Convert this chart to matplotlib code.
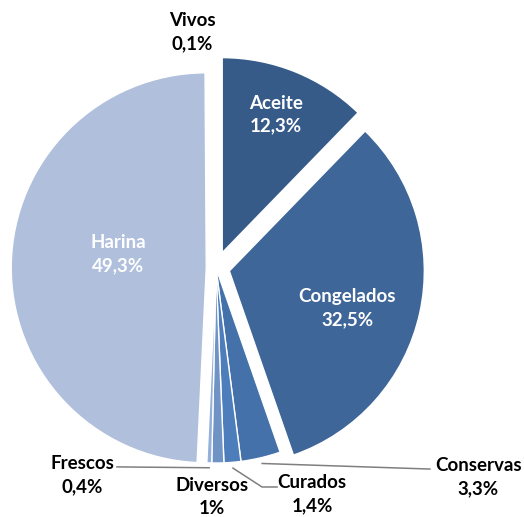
import numpy as np
import matplotlib
matplotlib.use("Agg")
import matplotlib.pyplot as plt

categories = ["Aceite", "Congelados", "Conservas", "Curados", "Diversos", "Frescos", "Harina", "Vivos"]
values = [12.3, 32.5, 3.3, 1.4, 1.0, 0.4, 49.3, 0.1]
pct_labels = ["12,3%", "32,5%", "3,3%", "1,4%", "1%", "0,4%", "49,3%", "0,1%"]

colors = ["#375b89", "#3f6698", "#4471aa", "#4d7dba", "#7093c6", "#94afd8", "#afbfdc", "#c9d5ea"]
explode = [0.085, 0.07, 0, 0, 0, 0, 0.05, 0.05]

# label positions (data units, radius = 1)
label_pos = {
    "Aceite": (0.308, 0.785),
    "Congelados": (0.672, -0.205),
    "Harina": (-0.503, 0.072),
    "Vivos": (-0.123, 1.210),
    "Frescos": (-0.687, -1.062),
    "Diversos": (-0.021, -1.174),
    "Curados": (0.492, -1.159),
    "Conservas": (1.344, -1.072),
}
inside = {"Aceite", "Congelados", "Harina"}

W, H = 524, 517
fig = plt.figure(figsize=(W / 100, H / 100), dpi=100)
ax = fig.add_axes([0, 0, 1, 1])
cx, cy, R = 216, 268, 195
ax.axis("off")

ax.pie(values, colors=colors, explode=explode, startangle=90, counterclock=False,
       radius=1, wedgeprops=dict(edgecolor="white", linewidth=1.0))
ax.set_xlim(-cx / R, (W - cx) / R)
ax.set_ylim(-(H - cy) / R, cy / R)
ax.set_aspect("auto")

font = "Lato"
for cat, pct in zip(categories, pct_labels):
    x, y = label_pos[cat]
    col = "white" if cat in inside else "black"
    ax.text(x, y, f"{cat}\n{pct}", ha="center", va="center", fontsize=13.5,
            fontweight="bold", color=col, family=font, linespacing=1.4)

# leader lines
total = sum(values)
cum = np.cumsum([0] + values)
def mid_point(i, r=1.02):
    ang = np.deg2rad(90 - (cum[i] + values[i] / 2) / total * 360)
    return r * np.cos(ang), r * np.sin(ang)

lc = "#7f7f7f"
i_fr = categories.index("Frescos")
sx, sy = mid_point(i_fr, 1.025)
ax.plot([sx, -0.508], [sy, -1.020], color=lc, lw=1.1)
i_cu = categories.index("Curados")
sx, sy = mid_point(i_cu, 1.03)
ax.plot([sx, 0.236, 0.313], [sy, -1.123, -1.123], color=lc, lw=1.1)
i_co = categories.index("Conservas")
sx, sy = mid_point(i_co, 1.03)
ax.plot([sx, 1.097], [sy, -1.031], color=lc, lw=1.1)

fig.savefig("out.png", dpi=100)
